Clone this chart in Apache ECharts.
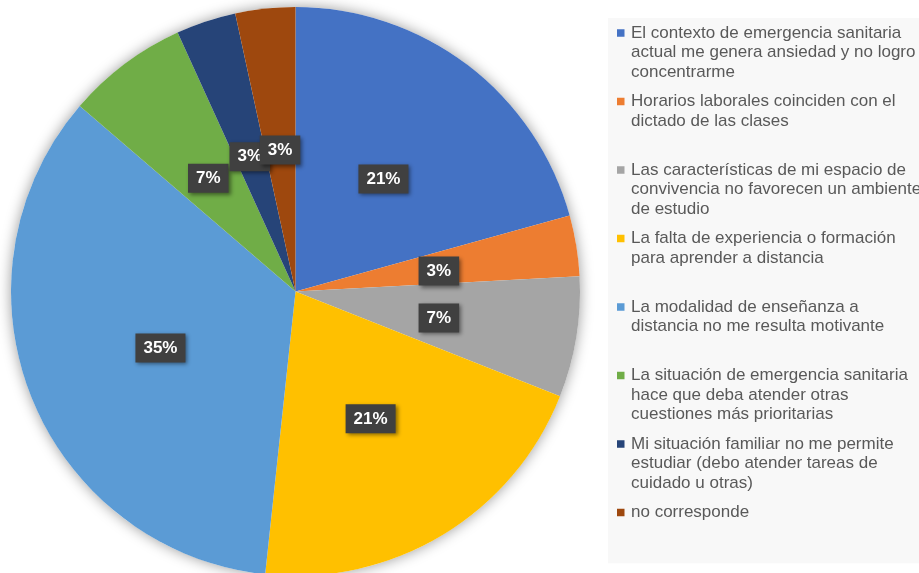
<!DOCTYPE html>
<html>
<head>
<meta charset="utf-8">
<script src="https://cdn.jsdelivr.net/npm/echarts@6/dist/echarts.min.js"></script>
<style>
html,body{margin:0;padding:0;background:#fff;}
#chart{width:919px;height:573px;}
</style>
</head>
<body>
<div id="chart"></div>
<script>
const categories = [
  'El contexto de emergencia sanitaria\nactual me genera ansiedad y no logro\nconcentrarme',
  'Horarios laborales coinciden con el\ndictado de las clases',
  'Las características de mi espacio de\nconvivencia no favorecen un ambiente\nde estudio',
  'La falta de experiencia o formación\npara aprender a distancia',
  'La modalidad de enseñanza a\ndistancia no me resulta motivante',
  'La situación de emergencia sanitaria\nhace que deba atender otras\ncuestiones más prioritarias',
  'Mi situación familiar no me permite\nestudiar (debo atender tareas de\ncuidado u otras)',
  'no corresponde'
];
const values = [20.7, 3.45, 6.85, 20.7, 34.6, 6.9, 3.4, 3.4];
const colors = ['#4472C4', '#ED7D31', '#A5A5A5', '#FFC000', '#5B9BD5', '#70AD47', '#264478', '#9E480E'];

const LH = 19.5;
const LINES = 3;
const ITEM_H = LH * LINES;
const SQ = 7.5;
const sqTop = LH / 2 - SQ / 2;
const iconPath = 'path://M0,0h0.04v0.04h-0.04z M0,' + sqTop + 'h' + SQ + 'v' + SQ + 'h-' + SQ + 'z M0,' + (ITEM_H - 0.04) + 'h0.04v0.04h-0.04z';

const total = values.reduce((a, b) => a + b, 0);
const chart = echarts.init(document.getElementById('chart'), null, {renderer: 'canvas'});

chart.setOption({
  backgroundColor: '#ffffff',
  animation: false,
  legend: {
    orient: 'vertical',
    left: 608,
    top: 18,
    padding: [5.25, 80, 2, 9],
    backgroundColor: '#f8f8f8',
    itemGap: 10,
    itemWidth: SQ,
    itemHeight: ITEM_H,
    icon: iconPath,
    itemStyle: {borderWidth: 0},
    data: categories,
    formatter: function (name) {
      let n = name.split('\n').length;
      let s = name;
      while (n < LINES) { s += '\n '; n++; }
      return s;
    },
    textStyle: {
      fontFamily: 'Liberation Sans, Arial, sans-serif',
      fontSize: 17,
      lineHeight: LH,
      color: '#595959',
      padding: [0, 0, 0, 1.5]
    }
  },
  series: [
    {
      type: 'pie',
      silent: true,
      center: [295.5, 291.5],
      radius: 284.5,
      z: 1,
      label: {show: false},
      labelLine: {show: false},
      itemStyle: {
        color: '#ffffff',
        borderWidth: 0,
        shadowBlur: 14,
        shadowColor: 'rgba(0,0,0,0.4)'
      },
      data: [{name: '', value: total}]
    },
    {
      type: 'pie',
      center: [295.5, 291.5],
      radius: 284.5,
      startAngle: 90,
      clockwise: true,
      z: 2,
      avoidLabelOverlap: false,
      labelLayout: {hideOverlap: false},
      itemStyle: {borderWidth: 0},
      emphasis: {disabled: true},
      label: {
        show: true,
        position: 'inside',
        offset: [0, 3],
        formatter: function (p) { return Math.round(p.percent) + '%'; },
        color: '#ffffff',
        fontFamily: 'Liberation Sans, Arial, sans-serif',
        fontWeight: 'bold',
        fontSize: 17,
        lineHeight: 19,
        backgroundColor: '#404040',
        padding: [5, 8, 5, 8],
        shadowBlur: 4,
        shadowOffsetX: 2,
        shadowOffsetY: 2,
        shadowColor: 'rgba(0,0,0,0.45)'
      },
      labelLine: {show: false},
      data: categories.map((c, i) => ({name: c, value: values[i], itemStyle: {color: colors[i]}}))
    }
  ]
});
</script>
</body>
</html>
